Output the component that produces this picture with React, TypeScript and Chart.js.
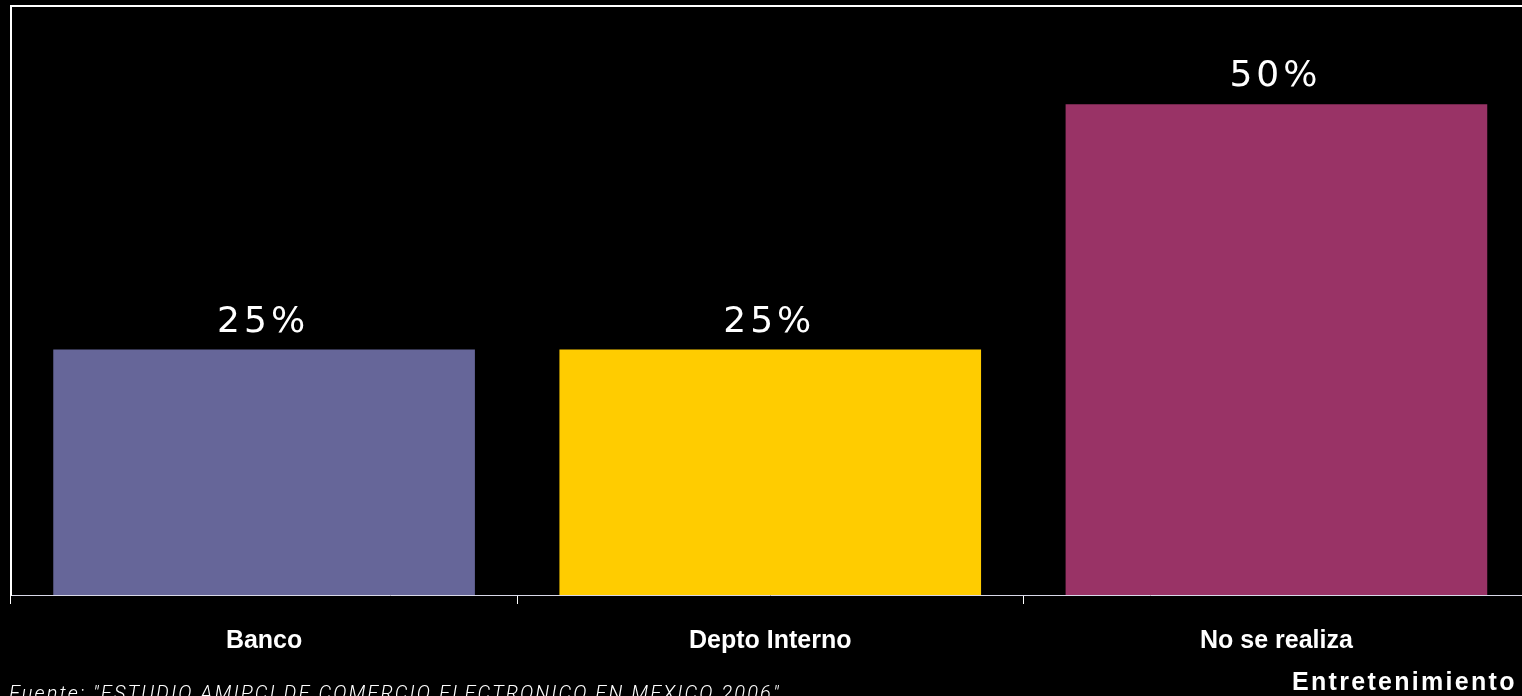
import React, { useEffect, useRef } from "react";
import { Chart, registerables } from "chart.js";

Chart.register(...registerables);

const categories = ["Banco", "Depto Interno", "No se realiza"];
const values = [25, 25, 50];
const barColors = ["#666699", "#FFCC00", "#993366"];
const valueLabels = ["25%", "25%", "50%"];
const yMax = 60;
const footnote = 'Fuente: "ESTUDIO AMIPCI DE COMERCIO ELECTRONICO EN MEXICO 2006"';
const sectionLabel = "Entretenimiento";

const framePlugin = {
  id: "frame",
  afterDraw(chart: any) {
    const { ctx, chartArea } = chart;
    ctx.save();
    ctx.strokeStyle = "#ffffff";
    ctx.lineWidth = 2;
    ctx.beginPath();
    ctx.moveTo(chartArea.left, chartArea.top);
    ctx.lineTo(chart.width, chartArea.top);
    ctx.stroke();
    ctx.restore();
  },
};

const valueLabelPlugin = {
  id: "valueLabels",
  afterDatasetsDraw(chart: any) {
    const { ctx } = chart;
    const meta = chart.getDatasetMeta(0);
    ctx.save();
    ctx.fillStyle = "#ffffff";
    ctx.font = "500 36px 'DejaVu Sans'";
    (ctx as any).letterSpacing = "4px";
    ctx.textAlign = "center";
    ctx.textBaseline = "alphabetic";
    meta.data.forEach((bar: any, i: number) => {
      ctx.fillText(valueLabels[i], bar.x - 1, bar.y - 18);
    });
    ctx.restore();
  },
};

export default function App() {
  const ref = useRef<HTMLCanvasElement>(null);
  useEffect(() => {
    document.body.style.margin = "0";
    document.body.style.background = "#000";
    const chart = new Chart(ref.current!, {
      type: "bar",
      data: {
        labels: categories,
        datasets: [
          {
            data: values,
            backgroundColor: barColors,
            borderWidth: 0,
            barPercentage: 0.833,
            categoryPercentage: 1,
          },
        ],
      },
      options: {
        animation: false,
        responsive: false,
        maintainAspectRatio: false,
        layout: { padding: { left: 3, top: 6, right: 10.5, bottom: 18 } },
        plugins: { legend: { display: false }, tooltip: { enabled: false } },
        scales: {
          x: {
            offset: true,
            grid: {
              offset: true,
              drawOnChartArea: false,
              drawTicks: true,
              tickLength: 9,
              color: "#ffffff",
              lineWidth: 1,
            },
            border: { display: true, color: "#d8d8e8", width: 1 },
            ticks: {
              color: "#ffffff",
              padding: 22,
              font: { family: "'Liberation Sans', Arial", size: 25, weight: "bold" },
            },
          },
          y: {
            min: 0,
            max: yMax,
            grid: { display: false },
            border: { display: true, color: "#ffffff", width: 2 },
            ticks: { display: false },
          },
        },
      },
      plugins: [framePlugin, valueLabelPlugin],
    });
    return () => chart.destroy();
  }, []);

  return (
    <div style={{ position: "fixed", left: 0, top: 0, width: 1522, height: 696, overflow: "hidden", background: "#000" }}>
      <canvas ref={ref} width={1540} height={696} style={{ display: "block", width: 1540, height: 696 }} />
      <div
        style={{
          position: "absolute",
          left: 1292,
          top: 666,
          color: "#fff",
          fontFamily: "'Liberation Sans', Arial",
          fontWeight: "bold",
          fontSize: 25,
          letterSpacing: 2.3,
          lineHeight: "30px",
          whiteSpace: "nowrap",
        }}
      >
        {sectionLabel}
      </div>
      <div
        style={{
          position: "absolute",
          left: 9,
          top: 681,
          color: "#fff",
          fontFamily: "Roboto",
          fontStyle: "italic",
          fontWeight: 300,
          fontSize: 20,
          letterSpacing: 2.1,
          lineHeight: "24px",
          whiteSpace: "nowrap",
        }}
      >
        {footnote}
      </div>
    </div>
  );
}
